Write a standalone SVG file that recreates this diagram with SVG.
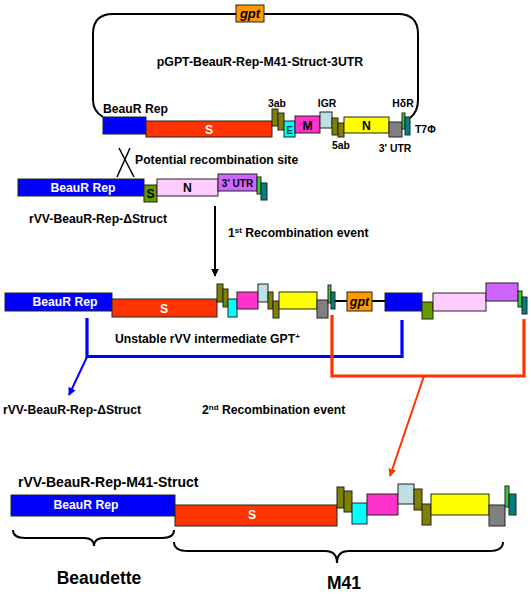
<svg xmlns="http://www.w3.org/2000/svg" width="531" height="594" viewBox="0 0 531 594">
<defs>
<style>
text{font-family:"Liberation Sans",Arial,sans-serif;font-weight:bold;fill:#000}
.w{fill:#fff}
.c{text-anchor:middle}
.b rect,rect.b{stroke:#222;stroke-width:1}
.bl{fill:#0000ff}.rd{fill:#ff3300}.ol{fill:#808000}.cy{fill:#00ffff}.mg{fill:#ff33cc}
.lb{fill:#bfdfe2}.ye{fill:#ffff00}.gy{fill:#808080}.gr{fill:#33cc33}.te{fill:#008080}
.sg{fill:#669900}.pk{fill:#ffccff}.pu{fill:#cc66ff}.or{fill:#ff9900}
.f12{font-size:12.2px}.f10{font-size:10.4px}
.ln{fill:none;stroke-width:2}
.br{fill:none;stroke-width:3.2}
</style>
<marker id="ak" viewBox="0 0 10 10" refX="9" refY="5" markerWidth="4" markerHeight="4" orient="auto" markerUnits="strokeWidth"><path d="M0,0 L10,5 L0,10 z" fill="#000"/></marker>
<marker id="ab" viewBox="0 0 10 10" refX="9" refY="5" markerWidth="4" markerHeight="4" orient="auto" markerUnits="strokeWidth"><path d="M0,0 L10,5 L0,10 z" fill="#0000ff"/></marker>
<marker id="ar" viewBox="0 0 10 10" refX="9" refY="5" markerWidth="4" markerHeight="4" orient="auto" markerUnits="strokeWidth"><path d="M0,0 L10,5 L0,10 z" fill="#ff3300"/></marker>
</defs>
<rect width="531" height="594" fill="#fff"/>

<g id="plasmid" class="b">
<path d="M103,117 C96,113 93,108 93,100 L93,34 Q93,14 113,14 L398,14 Q418,14 418,34 L418,100 C418,108 415,114 410,118" fill="none" stroke="#000" stroke-width="2"/>
<rect class="or" x="236" y="5" width="28" height="17"/>
<text x="250" y="18" class="c" style="font-size:13px;font-style:italic">gpt</text>
<text x="260" y="66" class="c" style="font-size:12.3px">pGPT-BeauR-Rep-M41-Struct-3UTR</text>
<text x="103" y="113" class="f12">BeauR Rep</text>
<rect class="bl" x="103" y="117" width="43" height="17"/>
<rect class="rd" x="146" y="121" width="126" height="16"/>
<text x="209" y="134" class="c w f12">S</text>
<rect class="ol" x="272" y="109" width="6" height="17"/>
<rect class="ol" x="278" y="113" width="6" height="17"/>
<rect class="cy" x="284" y="121" width="11" height="16"/>
<text x="289.5" y="134" class="c" style="font-size:10px;fill:#004444">E</text>
<rect class="mg" x="295" y="116" width="25" height="17"/>
<text x="307.5" y="129.5" class="c f12">M</text>
<rect class="lb" x="320" y="112" width="12" height="16"/>
<rect class="ol" x="332" y="118" width="6" height="17"/>
<rect class="ol" x="338" y="123" width="6" height="14"/>
<rect class="ye" x="344" y="117" width="45" height="16"/>
<text x="366.5" y="130" class="c f12">N</text>
<rect class="gy" x="389" y="122" width="13" height="15"/>
<rect class="gr" x="402" y="113" width="3" height="16"/>
<rect class="te" x="405" y="117" width="5" height="18"/>
<text x="277" y="107" class="c f10">3ab</text>
<text x="327" y="107" class="c f10">IGR</text>
<text x="403" y="107" class="c f10">HδR</text>
<text x="341" y="149" class="c f10">5ab</text>
<text x="395" y="152" class="c f10">3' UTR</text>
<text x="415" y="133" class="f10">T7Φ</text>
</g>

<g id="rvv-dstruct" class="b">
<rect class="bl" x="18" y="179" width="126" height="17"/>
<text x="83" y="192" class="c w f12">BeauR Rep</text>
<rect class="sg" x="144" y="185" width="13" height="17"/>
<text x="150.5" y="198" class="c f12">S</text>
<rect class="pk" x="157" y="179" width="61" height="17"/>
<text x="187.5" y="192" class="c f12">N</text>
<rect class="pu" x="218" y="174" width="39" height="17"/>
<text x="237.5" y="187" class="c" style="font-size:10px">3' UTR</text>
<rect class="gr" x="257" y="177" width="4" height="17"/>
<rect class="te" x="261" y="183" width="6" height="17"/>
<text x="29" y="223" class="f12">rVV-BeauR-Rep-ΔStruct</text>
</g>

<g id="intermediate" class="b">
<line x1="335" y1="301" x2="385" y2="301" stroke="#000" stroke-width="2"/>
<rect class="bl" x="5" y="293" width="107" height="18"/>
<text x="65" y="306" class="c w f12">BeauR Rep</text>
<rect class="rd" x="112" y="299" width="105" height="18"/>
<text x="164" y="313" class="c w f12">S</text>
<rect class="ol" x="217" y="284" width="6" height="18"/>
<rect class="ol" x="223" y="289" width="5" height="18"/>
<rect class="cy" x="228" y="299" width="9" height="18"/>
<rect class="mg" x="237" y="292" width="21" height="17"/>
<rect class="lb" x="258" y="284" width="10" height="18"/>
<rect class="ol" x="268" y="292" width="5" height="17"/>
<rect class="ol" x="273" y="301" width="6" height="17"/>
<rect class="ye" x="279" y="292" width="38" height="17"/>
<rect class="gy" x="317" y="300" width="11" height="18"/>
<rect class="gr" x="328" y="285" width="3" height="18"/>
<rect class="te" x="331" y="292" width="4" height="17"/>
<rect class="or" x="347" y="292" width="25" height="19"/>
<text x="359.5" y="306" class="c" style="font-size:12.5px;font-style:italic">gpt</text>
<rect class="bl" x="385" y="293" width="37" height="18"/>
<rect class="sg" x="422" y="302" width="11" height="17"/>
<rect class="pk" x="433" y="293" width="53" height="18"/>
<rect class="pu" x="486" y="283" width="32" height="18"/>
<rect class="gr" x="518" y="291" width="4" height="16"/>
<rect class="te" x="522" y="297" width="5" height="17"/>
<text x="115" y="343" class="f12">Unstable rVV intermediate GPT<tspan dy="-4" style="font-size:8px">+</tspan></text>
</g>

<g id="rvv-dstruct-2">
<text x="3" y="414" class="f12">rVV-BeauR-Rep-ΔStruct</text>
</g>

<g id="final" class="b">
<text x="18" y="487" style="font-size:14px">rVV-BeauR-Rep-M41-Struct</text>
<rect class="bl" x="11" y="495" width="164" height="21"/>
<text x="86" y="509" class="c w f12">BeauR Rep</text>
<rect class="rd" x="175" y="505" width="162" height="21"/>
<text x="252" y="519" class="c w f12">S</text>
<rect class="ol" x="337" y="487" width="7" height="21"/>
<rect class="ol" x="344" y="491" width="8" height="21"/>
<rect class="cy" x="352" y="503" width="15" height="21"/>
<rect class="mg" x="367" y="494" width="31" height="21"/>
<rect class="lb" x="398" y="484" width="16" height="20"/>
<rect class="ol" x="414" y="489" width="8" height="21"/>
<rect class="ol" x="422" y="504" width="9" height="21"/>
<rect class="ye" x="431" y="494" width="58" height="21"/>
<rect class="gy" x="489" y="505" width="16" height="21"/>
<rect class="gr" x="505" y="486" width="4" height="21"/>
<rect class="te" x="509" y="494" width="7" height="21"/>
</g>

<g id="beaudette">
<path class="ln" stroke="#000" d="M13,530 Q13,538 25,538 L84,538 Q94,538 94,546 Q94,538 104,538 L162,538 Q174,538 174,530"/>
<text x="99" y="584" class="c" style="font-size:17.5px">Beaudette</text>
</g>
<g id="m41">
<path class="ln" stroke="#000" d="M174,542 Q174,551 188,551 L325,551 Q337,551 337,563 Q337,551 349,551 L489,551 Q503,551 503,542"/>
<text x="344" y="589" class="c" style="font-size:17.5px">M41</text>
</g>

<g id="connectors">
<line x1="119" y1="148" x2="134" y2="177" stroke="#000" stroke-width="1.5"/>
<line x1="130" y1="148" x2="117" y2="177" stroke="#000" stroke-width="1.5"/>
<text x="135" y="164" class="f12">Potential recombination site</text>
<line x1="215" y1="206" x2="215" y2="276" stroke="#000" stroke-width="2" marker-end="url(#ak)"/>
<text x="228" y="237" class="f12">1<tspan dy="-4" style="font-size:8px">st</tspan><tspan dy="4"> Recombination event</tspan></text>
<path class="br" stroke="#0000ff" d="M87,318 V356.5 H402 V320"/>
<line x1="87" y1="357" x2="69" y2="395" stroke="#0000ff" stroke-width="2" marker-end="url(#ab)"/>
<path class="br" stroke="#ff3300" d="M332,315 V376 H524 V319"/>
<line x1="424" y1="376" x2="390" y2="476" stroke="#ff3300" stroke-width="2" marker-end="url(#ar)"/>
<text x="202" y="414" class="f12">2<tspan dy="-4" style="font-size:8px">nd</tspan><tspan dy="4"> Recombination event</tspan></text>
</g>
</svg>
